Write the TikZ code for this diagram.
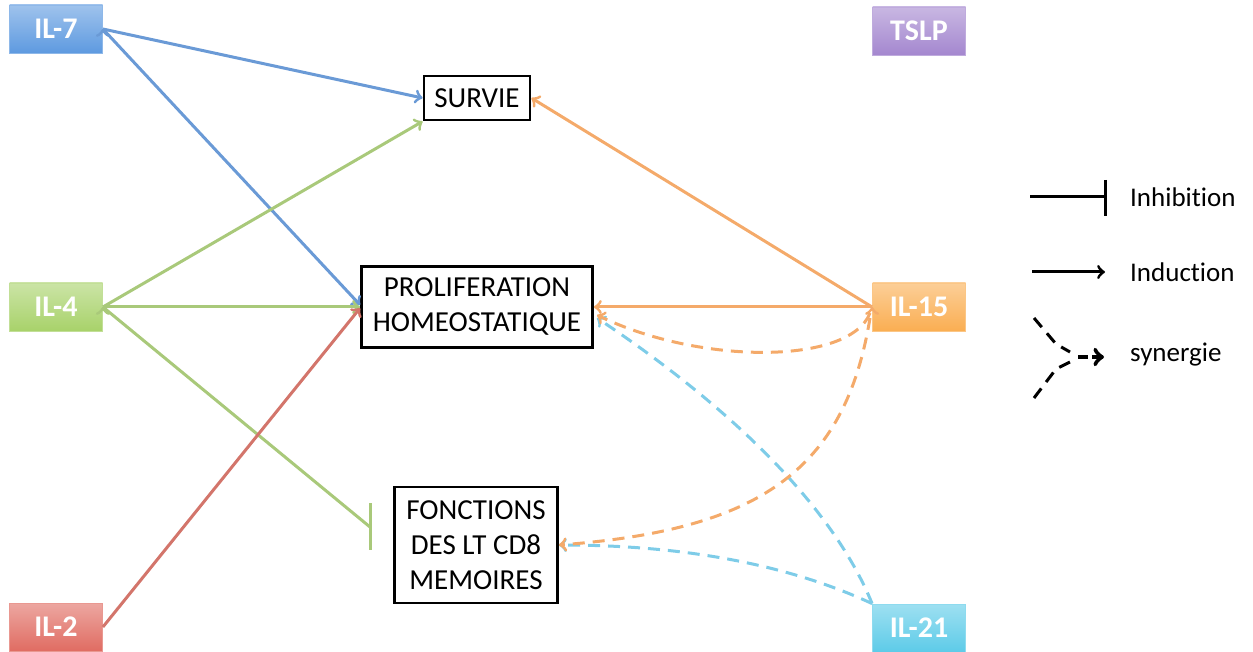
\documentclass[tikz,border=0pt]{standalone}
\usepackage{fontspec}
\setmainfont{Carlito}[RawFeature={-liga;-clig;-dlig;-calt}]
\usetikzlibrary{arrows,positioning}
\definecolor{ilblue}{HTML}{5E9AE0}
\definecolor{ilgreen}{HTML}{A8D26A}
\definecolor{ilred}{HTML}{E06C62}
\definecolor{ilpurple}{HTML}{A487CF}
\definecolor{ilorange}{HTML}{FAAE52}
\definecolor{ilcyan}{HTML}{5DCBE8}
\definecolor{lnblue}{HTML}{6A9AD6}
\definecolor{lngreen}{HTML}{A9C97A}
\definecolor{lnred}{HTML}{D3756B}
\definecolor{lnorange}{HTML}{F4AA6A}
\definecolor{lncyan}{HTML}{7ECCE8}

\begin{document}
\begin{tikzpicture}[x=0.5pt,y=-0.5pt,->,line width=1.5pt,
cyto/.style={rectangle,draw=#1!70!white,line width=0.4pt,top color=#1!60!white,bottom color=#1,
  minimum width=46.5pt,minimum height=24pt,inner sep=0pt,text=white,
  font=\bfseries\fontsize{15}{17}\selectfont},
effect/.style={rectangle,draw,line width=1.4pt,align=center,inner sep=0pt,
  font=\fontsize{14.5}{17.5}\selectfont},
syn/.style={dashed,dash pattern=on 6pt off 4pt},
legend text/.style={font=\fontsize{13.5}{16}\selectfont,anchor=west}]

\useasboundingbox (0,0) rectangle (1253,652);

% cytokines
\node[cyto=ilblue] (il7) at (56,29) {IL-7};
\node[cyto=ilgreen] (il4) at (56,307) {IL-4};
\node[cyto=ilred] (il2) at (56,627) {IL-2};
\node[cyto=ilpurple] (tslp) at (919,31) {TSLP};
\node[cyto=ilorange] (il15) at (919,307) {IL-15};
\node[cyto=ilcyan] (il21) at (919,628) {IL-21};

% effets
\node[effect,minimum width=53pt,minimum height=22pt] (survie) at (477,98) {SURVIE};
\node[effect,minimum width=115.5pt,minimum height=40.5pt] (prolif) at (477,307) {PROLIFERATION\\HOMEOSTATIQUE};
\node[effect,minimum width=81.5pt,minimum height=58pt] (fonct) at (476,545) {FONCTIONS\\DES LT CD8\\MEMOIRES};

\coordinate (inh) at (370,527);

\path[draw=lnblue]
(il7.east) edge (survie.west)
(il7.east) edge ([yshift=1pt]prolif.west);
\path[draw=lngreen]
(il4.east) edge (survie.south west)
(il4.east) edge (prolif.west);
\draw[lngreen,-] (il4.east) -- (inh);
\draw[lngreen,-] (370,503) -- (370,550);
\draw[lnred] (il2.east) -- ([yshift=-0.5pt]prolif.west);
\path[draw=lnorange]
(il15.west) edge (survie.east)
(il15.west) edge (prolif.east);

% synergie
\draw[lncyan,syn] (il21.north west) .. controls (830,500) and (720,400) .. (597,318);
\draw[lncyan,syn] (il21.north west) .. controls (800,570) and (700,545) .. (fonct.east);
\draw[lnorange,syn] (870,313) .. controls (850,365) and (700,365) .. (597,315);
\draw[lnorange,syn] (870,318) .. controls (845,470) and (760,530) .. (fonct.east);

% legende
\begin{scope}[black]
\draw[-] (1030,197) -- (1105,197);
\draw[-] (1105,180) -- (1105,216);
\node[legend text] (linh) at (1122,197) {Inhibition};
\draw (1032,272) -- (1105,272);
\node[legend text] (lind) at (1122,272) {Induction};
\draw[-,syn] (1034,318) -- (1056,344) -- (1070,352);
\draw[-,syn] (1034,398) -- (1056,369) -- (1070,362);
\draw[syn,line width=2.2pt,dash pattern=on 5pt off 2pt] (1078,357) -- (1104,357);
\node[legend text] (lsyn) at (1122,355) {synergie};
\end{scope}
\end{tikzpicture}
\end{document}
